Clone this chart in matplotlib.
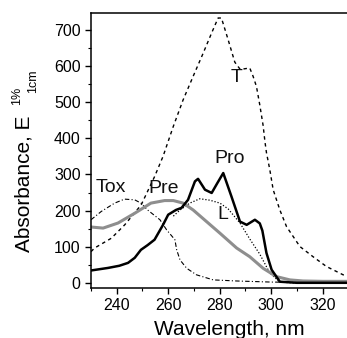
import matplotlib
matplotlib.use("Agg")
import matplotlib.pyplot as plt
from matplotlib.ticker import MultipleLocator

plt.rcParams['font.family'] = ['Liberation Sans', 'DejaVu Sans']

# Pro (solid black)
wl_pro = [230, 236.6, 241, 244.4, 247, 249.4, 252, 254.7, 258, 260, 263, 265.2, 267.7,
          270.4, 271.6, 274.3, 276.9, 279, 281.4, 284.6, 287.9, 290.5, 293.7, 295.6,
          296.6, 298.2, 300.2, 303.4, 310, 320, 330]
ab_pro = [35, 42, 48, 56, 70, 92, 105, 120, 161, 189, 202, 208, 230,
          281, 288, 258, 249, 275, 304, 239, 170, 161, 175, 165,
          145, 83, 37, 4, 1, 1, 1]

# Pre (gray)
wl_pre = [230, 234.7, 240.5, 247, 253.3, 258.6, 262, 265.8, 269.7, 274.9, 280.1,
          286.6, 291.7, 296.9, 302.1, 307.3, 312.4, 320, 330]
ab_pre = [155, 152, 166, 193, 221, 228, 228, 221, 202, 170, 138,
          97, 73, 41, 18, 9, 6, 5, 5]

# Tox (dash-dot)
wl_tox = [230, 234, 239.2, 243, 247, 249.4, 252, 256.8, 259.4, 262.6, 263.3,
          264.6, 267.2, 271, 277.5, 286.6, 300, 315, 330]
ab_tox = [175, 198, 221, 232, 230, 221, 202, 175, 147, 120, 92,
          64, 41, 23, 9, 6, 3, 2, 2]

# L (dotted)
wl_l = [262, 264.6, 268.4, 272.3, 276.2, 280.1, 283.3, 287.9, 291.7, 295.6,
        299.5, 303.4, 310, 330]
ab_l = [185, 202, 221, 233, 229, 221, 205, 166, 122, 80,
        28, 3, 0, 0]

# T (short dashes)
wl_t = [230, 231.4, 237.9, 243.1, 249.5, 254.7, 258, 262, 265.8, 269.7, 273.6,
        276.9, 279.4, 280.7, 283.3, 285.9, 288, 291.7, 293, 294.3, 295.6, 296.9,
        297.6, 298.2, 299.5, 300.8, 303.4, 306, 311.2, 316.3, 321.5, 328, 330]
ab_t = [87, 97, 124, 161, 216, 294, 350, 433, 506, 571, 635,
        691, 732, 732, 672, 610, 590, 594, 571, 543, 492, 435,
        391, 360, 313, 258, 202, 156, 101, 73, 46, 23, 20]

labels = ["T", "Pro", "Tox", "Pre", "L"]
label_x = [286.6, 284.0, 237.8, 258.3, 281.3]
label_y = [567, 343, 263, 260, 189]

fig = plt.figure(figsize=(3.47, 3.38), dpi=100)
ax = fig.add_axes([91/347, 50.5/338, (348.3-91)/347, (287.5-13.3)/338])

ax.plot(wl_t, ab_t, color='black', lw=1.0, linestyle=(0, (2.5, 2.5)))
ax.plot(wl_tox, ab_tox, color='black', lw=0.8, linestyle=(0, (4, 2, 1, 2)))
ax.plot(wl_l, ab_l, color='black', lw=0.9, linestyle=(0, (1, 1.5)))
ax.plot(wl_pre, ab_pre, color='#8e8e8e', lw=2.2)
ax.plot(wl_pro, ab_pro, color='black', lw=1.8)

for s, x, y in zip(labels, label_x, label_y):
    ax.text(x, y, s, fontsize=14, ha='center', va='center', color='#111111')

ax.set_xlim(230, 330)
ax.set_ylim(-12, 745)
ax.xaxis.set_major_locator(MultipleLocator(20))
ax.xaxis.set_minor_locator(MultipleLocator(10))
ax.yaxis.set_major_locator(MultipleLocator(100))
ax.yaxis.set_minor_locator(MultipleLocator(50))
ax.tick_params(which='major', direction='out', length=4, width=1, labelsize=11.5,
               colors='black')
ax.tick_params(which='minor', direction='out', length=2.2, width=0.8)
ax.xaxis.set_ticks_position('bottom')
ax.yaxis.set_ticks_position('left')
for sp in ax.spines.values():
    sp.set_linewidth(1.1)

fig.text(229/347, 3/338, 'Wavelength, nm', fontsize=15, ha='center', va='baseline')
fig.text(24/347, 1-184/338, 'Absorbance, E', fontsize=15, ha='center', va='center',
         rotation=90)
fig.text(17/347, 1-96/338, '1%', fontsize=9, ha='center', va='center', rotation=90)
fig.text(33/347, 1-81/338, '1cm', fontsize=9, ha='center', va='center', rotation=90)

fig.savefig('out.png', dpi=100)
